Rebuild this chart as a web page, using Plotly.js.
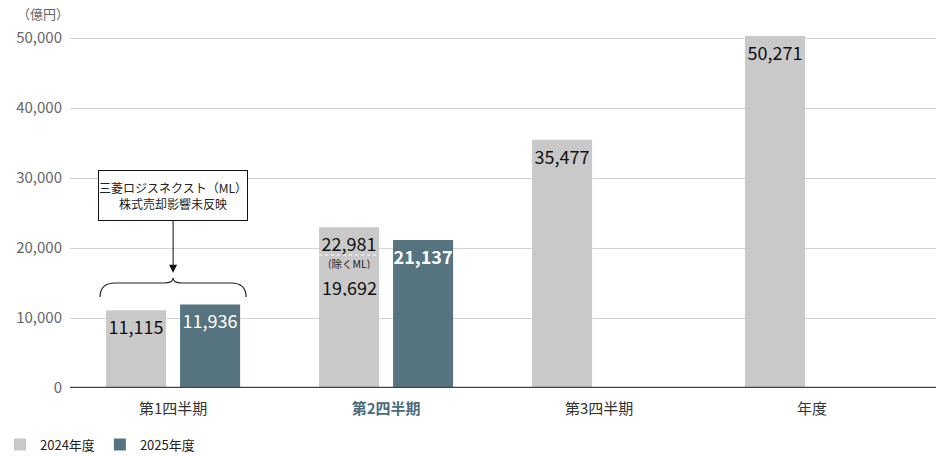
<!DOCTYPE html>
<html>
<head>
<meta charset="utf-8">
<script src="https://cdn.plot.ly/plotly-3.0.1.min.js"></script>
<style>html,body{margin:0;padding:0;background:#fff;}#chart{width:936px;height:456px;}</style>
</head>
<body>
<div id="chart"></div>
<script>
// ---- data ----
var categories = ["第1四半期", "第2四半期", "第3四半期", "年度"];
var values2024 = [11115, 22981, 35477, 50271];
var values2025 = [11936, 21137, null, null];
var labels2024 = ["11,115", "22,981", "35,477", "50,271"];
var labels2025 = ["11,936", "<b>21,137</b>", "", ""];
var q2ExclML = 19692;
var seriesNames = ["2024年度", "2025年度"];
var yTicks = [0, 10000, 20000, 30000, 40000, 50000];

var FONT = "'Noto Sans CJK JP', 'Noto Sans', sans-serif";
var C2024 = "#c9c9c9", C2025 = "#567480";
var bargap = 0.305, bargroupgap = 0.189;
var slot = (1 - bargap) / 2;
var barHalf = slot * (1 - bargroupgap) / 2;
var xIdx = categories.map(function (c, i) { return i; });

var tickText = categories.map(function (c, i) {
  return i === 1 ? "<b><span style='color:#4d6b78'>" + c + "</span></b>" : c;
});

var traces = [
  {
    type: "bar", name: seriesNames[0], x: xIdx, y: values2024,
    marker: { color: C2024 }, text: labels2024, textposition: "inside",
    insidetextanchor: "end", textangle: 0, constraintext: "none",
    textfont: { family: FONT, size: 18, color: "#111" }, hoverinfo: "none", cliponaxis: false
  },
  {
    type: "bar", name: seriesNames[1], x: xIdx, y: values2025,
    marker: { color: C2025 }, text: labels2025, textposition: "inside",
    insidetextanchor: "end", textangle: 0, constraintext: "none",
    textfont: { family: FONT, size: 18, color: "#ffffff" }, hoverinfo: "none", cliponaxis: false
  }
];

var q2Left = 1 - slot / 2;

var layout = {
  width: 936, height: 456,
  margin: { l: 70, r: 0, t: 28, b: 68, autoexpand: false },
  paper_bgcolor: "#fff", plot_bgcolor: "#fff",
  font: { family: FONT, color: "#333" },
  barmode: "group", bargap: bargap, bargroupgap: bargroupgap,
  showlegend: true,
  legend: {
    orientation: "h", xref: "container", yref: "container",
    x: 0, xanchor: "left", y: 0.058, yanchor: "top",
    font: { family: FONT, size: 13, color: "#222" }, itemwidth: 30, traceorder: "normal"
  },
  xaxis: {
    range: [-0.484, 3.582], tickvals: xIdx, ticktext: tickText,
    showgrid: false, zeroline: false, showline: false, ticks: "",
    tickfont: { family: FONT, size: 15, color: "#333" }, ticklabelstandoff: 10, fixedrange: true,
    automargin: false
  },
  yaxis: {
    range: [0, 51428.57], tickvals: yTicks, tickformat: ",",
    showgrid: true, gridcolor: "#d3d3d3", gridwidth: 1,
    zeroline: false, showline: false, ticks: "",
    tickfont: { family: FONT, size: 15, color: "#666" }, ticklabelstandoff: 7, fixedrange: true,
    automargin: false
  },
  shapes: [
    { type: "line", xref: "paper", yref: "y", x0: 0, x1: 1, y0: 0, y1: 0,
      line: { color: "#444", width: 2.5 }, layer: "above" },
    { type: "line", xref: "x", yref: "y", x0: q2Left - barHalf, x1: q2Left + barHalf, y0: 19000, y1: 19000,
      line: { color: "#ffffff", width: 1, dash: "dot" }, layer: "above" },
    { type: "path", xref: "x", yref: "y", xsizemode: "pixel", ysizemode: "pixel",
      xanchor: 0, yanchor: 15000,
      path: "M -73,-14 Q -73,0 -58,0 L -9,0 Q 0,0 0,5 Q 0,0 9,0 L 58,0 Q 73,0 73,-14",
      line: { color: "#222", width: 1.2 }, fillcolor: "rgba(0,0,0,0)" }
  ],
  annotations: [
    { xref: "paper", yref: "paper", x: -0.031, y: 1.04, xanchor: "center", yanchor: "middle",
      text: "（億円）", showarrow: false, font: { family: FONT, size: 13, color: "#666" } },
    { xref: "x", yref: "y", x: 0, y: 16450, ax: 0, ay: -77, axref: "pixel", ayref: "pixel",
      text: "三菱ロジスネクスト（ML）<br>株式売却影響未反映", showarrow: true,
      arrowhead: 2, arrowsize: 1.6, arrowwidth: 1, arrowcolor: "#111",
      bordercolor: "#111", borderwidth: 1, borderpad: 1, bgcolor: "#fff",
      width: 146, height: 47, align: "center",
      font: { family: FONT, size: 12, color: "#222" } },
    { xref: "x", yref: "y", x: q2Left, y: 17850, showarrow: false, xanchor: "center", yanchor: "middle",
      height: 11, borderpad: 0,
      text: "(除くML)", font: { family: FONT, size: 10.5, color: "#222" } },
    { xref: "x", yref: "y", x: q2Left, y: 14550, showarrow: false, xanchor: "center", yanchor: "middle",
      height: 19, borderpad: 0,
      text: q2ExclML.toLocaleString("en-US"), font: { family: FONT, size: 18, color: "#111" } }
  ]
};

Plotly.newPlot("chart", traces, layout, { displayModeBar: false, staticPlot: true });
</script>
</body>
</html>
